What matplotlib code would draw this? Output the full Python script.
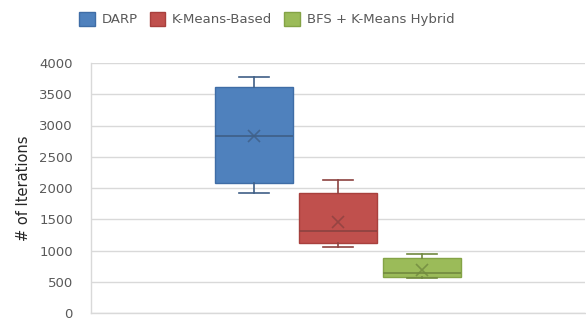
import matplotlib
matplotlib.use("Agg")
import matplotlib.pyplot as plt
from matplotlib.patches import Patch

series = ["DARP", "K-Means-Based", "BFS + K-Means Hybrid"]
whislo = [1925, 1060, 555]
q1 = [2085, 1125, 575]
med = [2840, 1310, 640]
q3 = [3620, 1925, 875]
whishi = [3780, 2130, 940]
means = [2840, 1450, 690]
yticks = [0, 500, 1000, 1500, 2000, 2500, 3000, 3500, 4000]

faces = ["#4F81BD", "#C0504D", "#9BBB59"]
edges = ["#3F6DA6", "#A8403D", "#84A346"]
darks = ["#3F5F86", "#8C4240", "#71893F"]

fig = plt.figure(figsize=(5.86, 3.21), dpi=100)
ax = fig.add_axes([91/586, 8/321, 494/586, 250/321])

positions = [-1, 0, 1]
for i in range(len(series)):
    st = [dict(whislo=whislo[i], q1=q1[i], med=med[i], q3=q3[i],
               whishi=whishi[i], mean=means[i], fliers=[], label=series[i])]
    ax.bxp(st, positions=[positions[i]], widths=0.917, capwidths=0.36,
           patch_artist=True, showmeans=True, showfliers=False,
           boxprops=dict(facecolor=faces[i], edgecolor=edges[i], linewidth=1),
           medianprops=dict(color=darks[i], linewidth=1.2),
           whiskerprops=dict(color=darks[i], linewidth=1.2),
           capprops=dict(color=darks[i], linewidth=1.2),
           meanprops=dict(marker="x", markeredgecolor=darks[i], markersize=9,
                          markeredgewidth=1.2, alpha=0.8))

ax.set_xlim(-2.94, 2.94)
ax.set_ylim(0, 4000)
ax.set_yticks(yticks)
ax.set_yticklabels([str(v) for v in yticks], fontsize=9.5, color="#595959")
ax.set_xticks([])
ax.tick_params(axis="y", length=0, pad=13)
ax.yaxis.grid(True, color="#D9D9D9", linewidth=1)
ax.set_axisbelow(True)
for s in ["top", "right"]:
    ax.spines[s].set_visible(False)
for s in ["left", "bottom"]:
    ax.spines[s].set_color("#D9D9D9")
    ax.spines[s].set_linewidth(1)
ax.set_ylabel("# of Iterations", fontsize=10.5, color="#262626", labelpad=6)

handles = [Patch(facecolor=faces[i], edgecolor=edges[i], label=series[i]) for i in range(3)]
fig.legend(handles=handles, loc="center", bbox_to_anchor=(0.455, 0.94), ncol=3,
           frameon=False, fontsize=9.5, handlelength=1.2, handleheight=1.2,
           handletextpad=0.5, columnspacing=0.9, labelcolor="#595959")

fig.savefig("out.png", dpi=100)
